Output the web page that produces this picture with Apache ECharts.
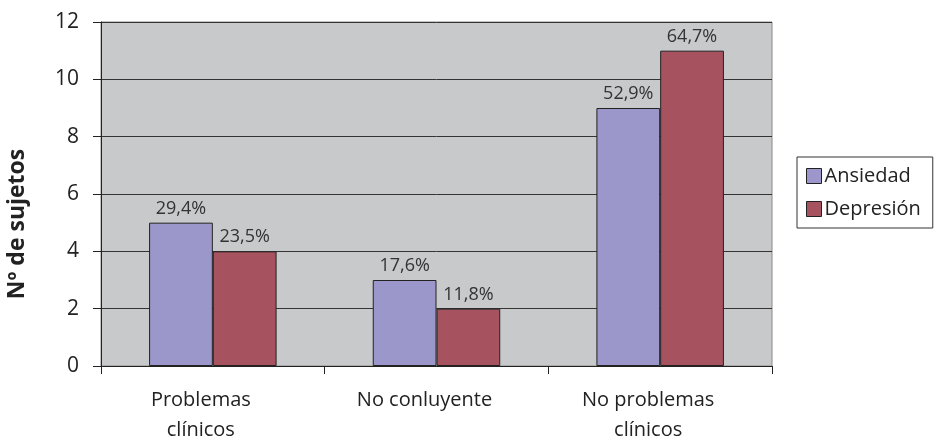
<!DOCTYPE html>
<html>
<head>
<meta charset="utf-8">
<script src="https://cdn.jsdelivr.net/npm/echarts@6/dist/echarts.min.js"></script>
<style>
  html, body { margin: 0; padding: 0; background: #fff; }
  #chart { width: 940px; height: 438px; }
</style>
</head>
<body>
<div id="chart"></div>
<script>
const categories = ['Problemas\nclínicos', 'No conluyente', 'No problemas\nclínicos']
const ansiedad = [5, 3, 9]
const depresion = [4, 2, 11]
const ansiedadPct = ['29,4%', '17,6%', '52,9%']
const depresionPct = ['23,5%', '11,8%', '64,7%']

const font = '"Open Sans", "Noto Sans", sans-serif'

function barSeries (name, data, labels, color) {
  return {
    name: name,
    type: 'bar',
    data: data,
    barGap: '0%',
    barCategoryGap: '43%',
    itemStyle: { color: color, borderColor: '#222', borderWidth: 1 },
    label: {
      show: true,
      position: 'top',
      distance: 5,
      color: '#333',
      fontFamily: font,
      fontSize: 18,
      formatter: (p) => labels[p.dataIndex]
    }
  }
}

const chart = echarts.init(document.getElementById('chart'))
chart.setOption({
  animation: false,
  textStyle: { fontFamily: font },
  grid: {
    left: 101, right: 168, top: 22, bottom: 72,
    outerBoundsMode: 'none',
    containLabel: false,
    show: true,
    backgroundColor: '#c8c9cb',
    borderColor: '#888',
    borderWidth: 1
  },
  legend: {
    orient: 'vertical',
    left: 797,
    top: 157,
    padding: [9, 12, 9, 9],
    itemGap: 13,
    itemWidth: 15,
    itemHeight: 15,
    icon: 'rect',
    borderColor: '#333',
    borderWidth: 1,
    itemStyle: { borderColor: '#222', borderWidth: 1 },
    textStyle: { fontSize: 20, color: '#222', fontFamily: font, padding: [0, 0, 0, -2] },
    data: ['Ansiedad', 'Depresión']
  },
  xAxis: {
    type: 'category',
    data: categories,
    axisLine: { lineStyle: { color: '#222', width: 1 } },
    axisTick: { show: true, length: 8, alignWithLabel: false, lineStyle: { color: '#222' } },
    axisLabel: { color: '#222', fontSize: 20, lineHeight: 30, margin: 19, fontFamily: font, padding: [0, 24, 0, 0] }
  },
  yAxis: {
    type: 'value',
    min: 0,
    max: 12,
    interval: 2,
    name: 'Nº de sujetos',
    nameLocation: 'middle',
    nameGap: 72,
    nameRotate: 90,
    nameTextStyle: { fontSize: 23, fontWeight: 'bold', color: '#222', fontFamily: font, padding: [0, 60, 0, 0] },
    axisLine: { show: true, lineStyle: { color: '#222' } },
    axisTick: { show: true, length: 8, lineStyle: { color: '#222' } },
    axisLabel: { color: '#222', fontSize: 21, margin: 22, fontFamily: font },
    splitLine: { lineStyle: { color: '#333', width: 1 } }
  },
  series: [
    barSeries('Ansiedad', ansiedad, ansiedadPct, '#9b97cb'),
    barSeries('Depresión', depresion, depresionPct, '#a7535f')
  ]
})
</script>
</body>
</html>
